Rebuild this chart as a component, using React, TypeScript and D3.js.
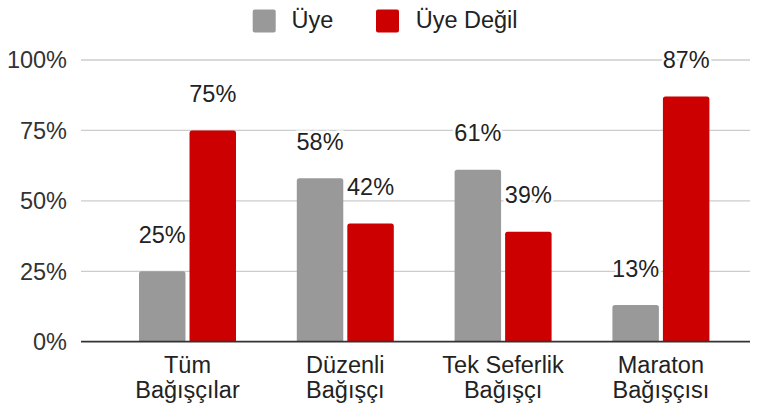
import React from "react";
import * as d3 from "d3";

const categories: string[][] = [
  ["Tüm", "Bağışçılar"],
  ["Düzenli", "Bağışçı"],
  ["Tek Seferlik", "Bağışçı"],
  ["Maraton", "Bağışçısı"],
];
const seriesNames = ["Üye", "Üye Değil"];
const uyeValues = [25, 58, 61, 13];
const uyeDegilValues = [75, 42, 39, 87];
const yTicks = [0, 25, 50, 75, 100];
const colors = ["#999999", "#cc0000"];

const W = 760;
const H = 411;
const FONT = "Arial, 'Liberation Sans', sans-serif";
const FS = 23.5;

export default function App() {
  const catKeys = categories.map((c) => c.join(" "));
  const y = d3.scaleLinear().domain([0, 100]).range([341.7, 60]);
  const x0 = d3.scaleBand<string>().domain(catKeys).range([108.6, 739.8]).padding(0);
  const groupW = 97;
  const x1 = d3
    .scaleBand<string>()
    .domain(seriesNames)
    .range([0, groupW])
    .paddingInner(0.08)
    .paddingOuter(0);
  const gridL = 81;
  const gridR = 750;
  const seriesVals = [uyeValues, uyeDegilValues];

  const roundedTop = (x: number, yTop: number, w: number, h: number, r: number) => {
    const rr = Math.min(r, h / 2, w / 2);
    return `M${x},${yTop + h}V${yTop + rr}Q${x},${yTop} ${x + rr},${yTop}H${x + w - rr}Q${x + w},${yTop} ${x + w},${yTop + rr}V${yTop + h}Z`;
  };

  return (
    <svg
      width={W}
      height={H}
      style={{ position: "absolute", left: 0, top: 0, background: "#fff" }}
      fontFamily={FONT}
    >
      {/* Legend */}
      <g>
        <rect x={252.7} y={9.5} width={23} height={23} rx={2} fill={colors[0]} />
        <text x={291.5} y={28.3} fontSize={FS} fill="#222">
          {seriesNames[0]}
        </text>
        <rect x={376} y={9.5} width={23} height={23} rx={2} fill={colors[1]} />
        <text x={415.7} y={28.3} fontSize={FS} fill="#222">
          {seriesNames[1]}
        </text>
      </g>

      {/* Gridlines + y ticks */}
      {yTicks.map((t) => (
        <g key={t}>
          {t !== 0 && (
            <line x1={gridL} x2={gridR} y1={y(t)} y2={y(t)} stroke="#cccccc" strokeWidth={1.3} />
          )}
          <text x={67} y={y(t) + 8.4} fontSize={FS} textAnchor="end" fill="#333">
            {t}%
          </text>
        </g>
      ))}

      {/* Bars */}
      {catKeys.map((c, ci) => {
        const gx = (x0(c) as number) + (x0.bandwidth() - groupW) / 2;
        return (
          <g key={c}>
            {seriesNames.map((s, si) => {
              const v = seriesVals[si][ci];
              const bx = gx + (x1(s) as number);
              const bw = x1.bandwidth();
              const top = y(v);
              return (
                <path key={s} d={roundedTop(bx, top, bw, y(0) - top, 2.5)} fill={colors[si]} />
              );
            })}
          </g>
        );
      })}

      {/* Baseline */}
      <line x1={gridL} x2={gridR} y1={y(0)} y2={y(0)} stroke="#333333" strokeWidth={1.8} />

      {/* Value labels */}
      {catKeys.map((c, ci) => {
        const gx = (x0(c) as number) + (x0.bandwidth() - groupW) / 2;
        return (
          <g key={c + "lbl"}>
            {seriesNames.map((s, si) => {
              const v = seriesVals[si][ci];
              const cx = gx + (x1(s) as number) + x1.bandwidth() / 2;
              return (
                <text
                  key={s}
                  x={cx}
                  y={y(v) - 28.5}
                  fontSize={FS}
                  textAnchor="middle"
                  fill="#222"
                  stroke="#fff"
                  strokeWidth={5}
                  paintOrder="stroke"
                  style={{ paintOrder: "stroke" }}
                >
                  {v}%
                </text>
              );
            })}
          </g>
        );
      })}

      {/* X labels */}
      {categories.map((lines, ci) => {
        const cx = (x0(catKeys[ci]) as number) + x0.bandwidth() / 2;
        return (
          <text key={ci} x={cx} textAnchor="middle" fontSize={FS} fill="#222">
            {lines.map((l, li) => (
              <tspan key={li} x={cx} y={373 + li * 24.5}>
                {l}
              </tspan>
            ))}
          </text>
        );
      })}
    </svg>
  );
}
